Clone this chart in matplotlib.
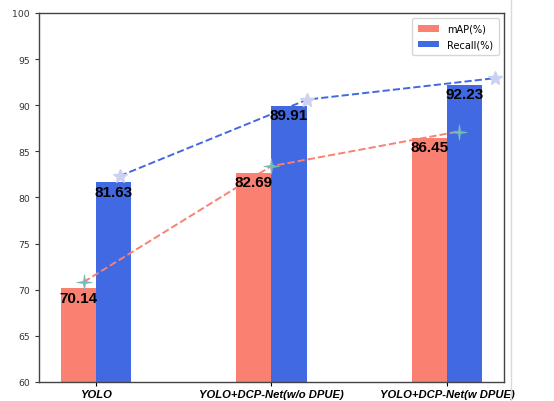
import matplotlib.pyplot as plt
import numpy as np
from matplotlib.lines import Line2D
from matplotlib.path import Path

# -----------------------------------------------------------
# data
# -----------------------------------------------------------
methods = ['YOLO', 'YOLO+DCP-Net(w/o DPUE)', 'YOLO+DCP-Net(w DPUE)']
mAP = [70.14, 82.69, 86.45]
recall = [81.63, 89.91, 92.23]

# thin four-pointed star used for the mAP trend markers
ang = np.arange(8) * np.pi / 4 + np.pi / 2
rad = np.where(np.arange(8) % 2 == 0, 1.0, 0.18)
verts = np.column_stack([rad * np.cos(ang), rad * np.sin(ang)])
sparkle = Path(np.vstack([verts, verts[:1]]), closed=True)

# -----------------------------------------------------------
# figure
# -----------------------------------------------------------
fig = plt.figure(figsize=(5.54, 4.02), dpi=100)
ax = fig.add_axes([0.0705, 0.0473, 0.839, 0.918])

x = np.arange(len(methods))
width = 0.2

b1 = ax.bar(x - width / 2, mAP, width, color='salmon', label='mAP(%)')
b2 = ax.bar(x + width / 2, recall, width, color='royalblue', label='Recall(%)')

# value labels just under the bar tops
for bars, vals in ((b1, mAP), (b2, recall)):
    for rect, v in zip(bars, vals):
        ax.annotate(f'{v:.2f}', (rect.get_x() + rect.get_width() / 2, v),
                    xytext=(0, -1.5), textcoords='offset points',
                    ha='center', va='top', fontsize=11, fontweight='bold',
                    family='Liberation Sans')

# trend lines (slightly above the bars)
lift = 0.7
xl = x * 1.068
ax.plot(xl - 0.07, np.array(mAP) + lift, '--', color='salmon', lw=1.4,
        marker=sparkle, markersize=11, markerfacecolor='#7ab9b9',
        markeredgecolor='#7ab9b9', markeredgewidth=0.6)
ax.plot(xl + 0.136, np.array(recall) + lift, '--', color='royalblue', lw=1.4,
        marker='*', markersize=10, markerfacecolor='#ccd0f2',
        markeredgecolor='#ccd0f2')

ax.set_xlim(-0.324, 2.324)
ax.set_ylim(60, 100)
ax.set_yticks(np.arange(60, 101, 5))
ax.set_xticks(x)
ax.set_xticklabels(methods, fontsize=8.1, fontweight='bold', style='italic',
                   family='Liberation Sans')
ax.tick_params(axis='y', labelsize=6.7, length=3, colors='#333333')
ax.tick_params(axis='x', length=3, pad=2)
for s in ax.spines.values():
    s.set_color('#444444')
    s.set_linewidth(1.0)

ax.legend(handles=[b1, b2], loc='upper right', fontsize=7,
          handlelength=2.2, borderpad=0.6, labelspacing=0.6)

# thin border line at the right of the figure
fig.add_artist(Line2D([0.9225, 0.9225], [0, 1], color='#d9d9d9', lw=1.0))

fig.savefig('out.png', dpi=100)
